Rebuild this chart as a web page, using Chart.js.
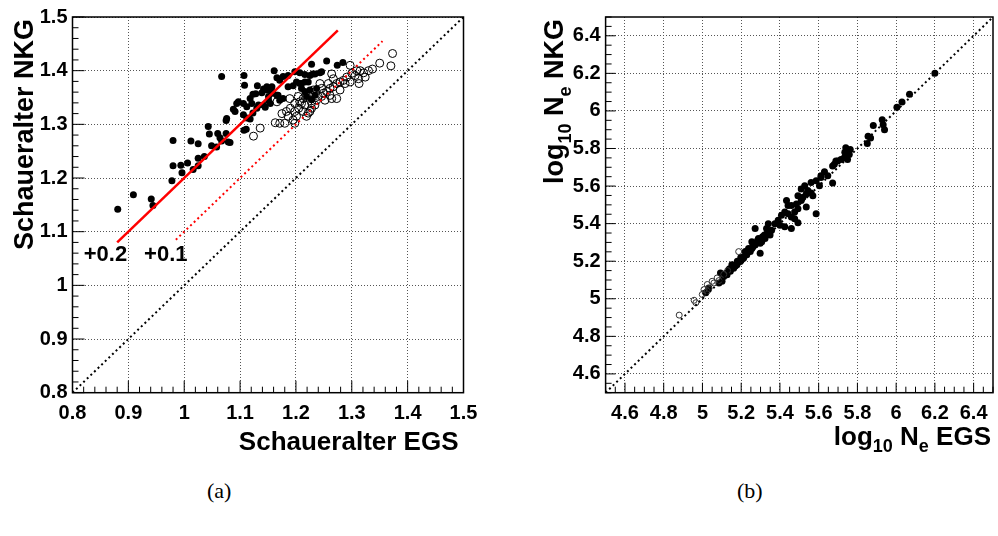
<!DOCTYPE html>
<html>
<head>
<meta charset="utf-8">
<script src="https://cdn.jsdelivr.net/npm/chart.js@4.4.1/dist/chart.umd.min.js"></script>
<style>
  html, body { margin:0; padding:0; background:#fff; }
  body { width:998px; height:536px; position:relative; overflow:hidden; }
  canvas { position:absolute; top:0; }
  #chartA { left:0; }
  #chartB { left:520px; }
  .caption { position:absolute; top:478px; font-size:22px; font-family:'Liberation Serif','DejaVu Serif',serif; }
</style>
</head>
<body>
<canvas id="chartA" width="490" height="470"></canvas>
<canvas id="chartB" width="478" height="470"></canvas>
<div class="caption" style="left:207px">(a)</div>
<div class="caption" style="left:737px">(b)</div>
<script>
// ---- panel (a): Schaueralter NKG vs EGS ----
const ageTicks = [0.8, 0.9, 1, 1.1, 1.2, 1.3, 1.4, 1.5];

// filled circles
const ageFilledEgs = [1.067,1.107,1.108,1.131,1.148,1.123,1.128,1.139,1.097,1.106,1.112,1.121,1.133,1.145,1.088,1.091,
  1.076,1.075,1.123,1.118,1.043,1.045,1.060,1.075,1.064,1.067,1.079,1.082,1.049,1.058,1.107,1.111,
  0.980,1.012,1.025,1.025,1.036,1.006,1.025,1.016,0.980,0.994,0.996,0.978,0.909,0.941,0.944,0.881,
  1.255,1.228,1.274,1.284,1.198,1.207,1.216,1.225,1.234,1.243,1.177,1.186,1.166,1.171,1.157,1.142,
  1.151,1.159,1.168,1.177,1.118,1.094,1.130,1.106,1.112,1.142,1.154,1.201,1.210,1.222,1.210,1.216,
  1.225,1.234,1.219,1.228,1.237,1.161,1.186,1.195,1.207,1.216,1.230,1.246,1.148,1.157,1.166,1.171,1.151];
const ageFilledNkg = [1.389,1.391,1.373,1.372,1.370,1.356,1.357,1.359,1.342,1.339,1.333,1.339,1.336,1.332,1.328,1.324,
  1.311,1.307,1.321,1.310,1.296,1.282,1.283,1.283,1.275,1.269,1.267,1.266,1.260,1.258,1.289,1.291,
  1.270,1.269,1.264,1.237,1.240,1.228,1.223,1.216,1.223,1.224,1.210,1.195,1.169,1.161,1.149,1.142,
  1.418,1.412,1.410,1.415,1.398,1.396,1.393,1.391,1.394,1.396,1.389,1.391,1.387,1.382,1.370,1.366,
  1.352,1.358,1.354,1.348,1.348,1.339,1.330,1.318,1.312,1.336,1.339,1.379,1.376,1.379,1.367,1.361,
  1.364,1.354,1.352,1.346,1.367,1.400,1.370,1.372,1.376,1.379,1.394,1.398,1.364,1.361,1.354,1.345,1.345];

// open circles
const ageOpenEgs = [1.373,1.370,1.350,1.337,1.330,1.321,1.313,1.309,1.306,1.297,1.291,1.285,1.279,1.273,1.267,1.264,
  1.261,1.255,1.249,1.264,1.243,1.246,1.231,1.225,1.219,1.213,1.237,1.234,1.228,1.222,1.225,1.216,
  1.210,1.213,1.219,1.189,1.198,1.204,1.207,1.166,1.183,1.186,1.198,1.201,1.195,1.198,1.163,1.171,
  1.180,1.136,1.124,1.315,1.312,1.324,1.258,1.267,1.279,1.288,1.297,1.261,1.273,1.252,1.300,1.240,
  1.190,1.175,1.205,1.228,1.246];
const ageOpenNkg = [1.432,1.409,1.414,1.403,1.400,1.396,1.376,1.400,1.391,1.410,1.388,1.382,1.379,1.376,1.385,1.394,
  1.367,1.361,1.358,1.348,1.376,1.367,1.364,1.358,1.352,1.348,1.345,1.336,1.330,1.321,1.324,1.336,
  1.339,1.324,1.315,1.348,1.339,1.352,1.342,1.342,1.324,1.315,1.324,1.315,1.308,1.302,1.303,1.302,
  1.302,1.293,1.278,1.400,1.385,1.388,1.376,1.370,1.364,1.376,1.379,1.354,1.348,1.345,1.395,1.352,
  1.330,1.320,1.330,1.340,1.352];

// reference lines (EGS, NKG end points)
const diagAEgs = [0.8, 1.5];
const diagANkg = [0.8, 1.5];
const plus02Egs = [0.88, 1.275];
const plus02Nkg = [1.08, 1.475];
const plus01Egs = [0.985, 1.355];
const plus01Nkg = [1.085, 1.455];

// ---- panel (b): log10 Ne NKG vs EGS ----
const neTicks = [4.6, 4.8, 5, 5.2, 5.4, 5.6, 5.8, 6, 6.2, 6.4];

const neFilledEgs = [6.200,6.069,6.030,6.004,5.928,5.882,5.933,5.940,5.855,5.868,5.851,5.763,5.740,5.758,5.732,5.715,
  5.698,5.681,5.749,5.630,5.689,5.672,5.612,5.647,5.672,5.587,5.604,5.561,5.528,5.544,5.561,5.570,
  5.519,5.510,5.434,5.442,5.485,5.493,5.476,5.536,5.587,5.425,5.442,5.408,5.459,5.476,5.493,5.391,
  5.374,5.400,5.340,5.331,5.425,5.459,5.272,5.357,5.349,5.323,5.306,5.289,5.298,5.272,5.255,5.247,
  5.229,5.298,5.212,5.195,5.178,5.161,5.144,5.127,5.110,5.093,5.136,5.152,5.255,5.238,5.221,5.101,
  5.085,5.033,5.017,5.493,5.459,5.536,5.510,5.612,5.735,5.170,5.185,5.200,5.215,5.230,5.245,5.260,
  5.275,5.290,5.310,5.320,5.335,5.120,5.140,5.155,5.180,5.198,5.228,5.262,5.285];
const neFilledNkg = [6.200,6.089,6.047,6.019,5.953,5.923,5.926,5.900,5.865,5.856,5.826,5.795,5.804,5.768,5.751,5.742,
  5.734,5.716,5.742,5.676,5.734,5.707,5.655,5.655,5.616,5.628,5.602,5.619,5.602,5.576,5.563,5.549,
  5.541,5.523,5.523,5.497,5.505,5.479,5.462,5.488,5.453,5.462,5.453,5.444,5.435,5.426,5.405,5.418,
  5.400,5.391,5.400,5.374,5.383,5.374,5.374,5.365,5.339,5.321,5.304,5.321,5.295,5.286,5.268,5.251,
  5.234,5.242,5.216,5.198,5.181,5.163,5.146,5.128,5.119,5.137,5.155,5.181,5.304,5.268,5.251,5.093,
  5.084,5.058,5.032,5.549,5.497,5.558,5.584,5.646,5.780,5.175,5.195,5.205,5.225,5.245,5.262,5.275,
  5.295,5.305,5.330,5.340,5.350,5.135,5.160,5.170,5.200,5.220,5.250,5.290,5.312];

const neOpenEgs = [4.880,4.957,4.966,5.008,5.025,5.033,5.059,5.085,5.076,5.050,5.025,4.999,5.187,5.130,5.110];
const neOpenNkg = [4.913,4.992,4.979,5.049,5.041,5.055,5.084,5.097,5.111,5.093,5.076,5.023,5.251,5.150,5.130];

const diagBEgs = [4.5, 6.5];
const diagBNkg = [4.5, 6.5];

// helpers
const pts = (xs, ys) => xs.map((x, i) => ({x: x, y: ys[i]}));
const TICK_FONT = {family: "'Liberation Sans', Arial, sans-serif", size: 20, weight: 'bold'};

// draws a list of text runs, subscripts smaller and lowered
function drawRuns(ctx, runs, size){
  const base = "bold " + size + "px 'Liberation Sans', Arial, sans-serif";
  const small = "bold " + Math.round(size * 0.68) + "px 'Liberation Sans', Arial, sans-serif";
  let w = 0;
  runs.forEach(r => { ctx.font = r.sub ? small : base; w += ctx.measureText(r.t).width; });
  let x = -w;
  runs.forEach(r => {
    ctx.font = r.sub ? small : base;
    ctx.fillText(r.t, x, r.sub ? size * 0.28 : 0);
    x += ctx.measureText(r.t).width;
  });
}

// ROOT-like frame: inner ticks, box, titles, notes
const rootFrame = {
  id: 'rootFrame',
  afterDraw(chart, args, o){
    const {ctx, chartArea: a, scales: {x, y}} = chart;
    ctx.save();
    ctx.strokeStyle = '#000';
    ctx.lineWidth = 1;
    const isMajor = v => Math.abs(v / o.major - Math.round(v / o.major)) < 1e-6;
    const nx = Math.round((x.max - x.min) / o.minor);
    ctx.beginPath();
    for (let i = 0; i <= nx; i++){
      const v = x.min + i * o.minor;
      const px = x.getPixelForValue(v);
      const len = isMajor(v) ? o.majorLen : o.minorLen;
      ctx.moveTo(px, a.bottom); ctx.lineTo(px, a.bottom - len);
    }
    const ny = Math.round((y.max - y.min) / o.minor);
    for (let i = 0; i <= ny; i++){
      const v = y.min + i * o.minor;
      const py = y.getPixelForValue(v);
      const len = isMajor(v) ? o.majorLen : o.minorLen;
      ctx.moveTo(a.left, py); ctx.lineTo(a.left + len, py);
    }
    ctx.stroke();
    ctx.lineWidth = 1.5;
    ctx.strokeRect(a.left, a.top, a.right - a.left, a.bottom - a.top);

    ctx.fillStyle = '#000';
    ctx.textBaseline = 'alphabetic';
    ctx.textAlign = 'left';
    // x title, right aligned
    ctx.save();
    ctx.translate(a.right + o.xTitle.dx, o.xTitle.baseline);
    drawRuns(ctx, o.xTitle.runs, o.xTitle.size);
    ctx.restore();
    // y title, rotated, ending at top
    ctx.save();
    ctx.translate(o.yTitle.baseline, a.top + o.yTitle.dy);
    ctx.rotate(-Math.PI / 2);
    drawRuns(ctx, o.yTitle.runs, o.yTitle.size);
    ctx.restore();
    // notes
    (o.notes || []).forEach(n => {
      ctx.font = "bold 22px 'Liberation Sans', Arial, sans-serif";
      ctx.textAlign = 'center';
      ctx.textBaseline = 'middle';
      ctx.fillText(n.text, x.getPixelForValue(n.x), y.getPixelForValue(n.y));
    });
    ctx.restore();
  }
};

function axis(ticks, pos, min, max, fit){
  return {
    type: 'linear', position: pos, min: min, max: max,
    afterBuildTicks: s => { s.ticks = ticks.map(v => ({value: v})); },
    afterFit: fit,
    grid: { color: '#555', lineWidth: 1, drawTicks: false },
    border: { display: false, dash: [1, 2] },
    ticks: { font: TICK_FONT, color: '#000', padding: pos === 'left' ? 5 : 9,
             autoSkip: false, maxRotation: 0, callback: v => String(v) },
    title: { display: false }
  };
}

function lineSet(xs, ys, color, dash, width){
  return { data: pts(xs, ys), showLine: true, borderColor: color, borderWidth: width,
           borderDash: dash, pointRadius: 0, fill: false };
}
function filledSet(xs, ys, r){
  return { data: pts(xs, ys), pointRadius: r, backgroundColor: '#000', borderWidth: 0 };
}
function openSet(xs, ys, r, color){
  return { data: pts(xs, ys), pointRadius: r, backgroundColor: 'rgba(0,0,0,0)', borderColor: color, borderWidth: 1 };
}

const baseOpts = {
  responsive: false, animation: false, events: [],
  plugins: { legend: { display: false }, tooltip: { enabled: false } }
};

// panel (a)
new Chart(document.getElementById('chartA'), {
  type: 'scatter',
  data: { datasets: [
    lineSet(plus02Egs, plus02Nkg, '#ff0000', [], 2.5),
    lineSet(plus01Egs, plus01Nkg, '#ff0000', [2, 3], 2),
    lineSet(diagAEgs, diagANkg, '#000', [2, 3], 2),
    openSet(ageOpenEgs, ageOpenNkg, 4, '#000'),
    filledSet(ageFilledEgs, ageFilledNkg, 3.5)
  ]},
  options: Object.assign({}, baseOpts, {
    layout: { padding: { top: 12.7, right: 26.5 } },
    scales: {
      x: axis(ageTicks, 'bottom', 0.8, 1.5, s => { s.height = 470 - 392.7; }),
      y: axis(ageTicks, 'left', 0.8, 1.5, s => { s.width = 72.5; })
    },
    plugins: Object.assign({}, baseOpts.plugins, {
      rootFrame: {
        minor: 0.02, major: 0.1, majorLen: 12, minorLen: 6,
        xTitle: { runs: [{t: 'Schaueralter EGS'}], size: 26, baseline: 450, dx: -5 },
        yTitle: { runs: [{t: 'Schaueralter NKG'}], size: 27, baseline: 33, dy: 2 },
        notes: [{text: '+0.2', x: 0.859, y: 1.057}, {text: '+0.1', x: 0.967, y: 1.057}]
      }
    })
  }),
  plugins: [rootFrame]
});

// panel (b)
new Chart(document.getElementById('chartB'), {
  type: 'scatter',
  data: { datasets: [
    lineSet(diagBEgs, diagBNkg, '#000', [2, 3], 2),
    openSet(neOpenEgs, neOpenNkg, 3, '#333'),
    filledSet(neFilledEgs, neFilledNkg, 3.5)
  ]},
  options: Object.assign({}, baseOpts, {
    layout: { padding: { top: 12.7, right: 1.3 } },
    scales: {
      x: axis(neTicks, 'bottom', 4.5, 6.5, s => { s.height = 470 - 392.7; }),
      y: axis(neTicks, 'left', 4.5, 6.5, s => { s.width = 85.6; })
    },
    plugins: Object.assign({}, baseOpts.plugins, {
      rootFrame: {
        minor: 0.05, major: 0.2, majorLen: 10, minorLen: 6,
        xTitle: { runs: [{t: 'log'}, {t: '10', sub: true}, {t: ' N'}, {t: 'e', sub: true}, {t: ' EGS'}], size: 26, baseline: 445, dx: -2 },
        yTitle: { runs: [{t: 'log'}, {t: '10', sub: true}, {t: ' N'}, {t: 'e', sub: true}, {t: ' NKG'}], size: 27, baseline: 43, dy: 2 }
      }
    })
  }),
  plugins: [rootFrame]
});
</script>
</body>
</html>
